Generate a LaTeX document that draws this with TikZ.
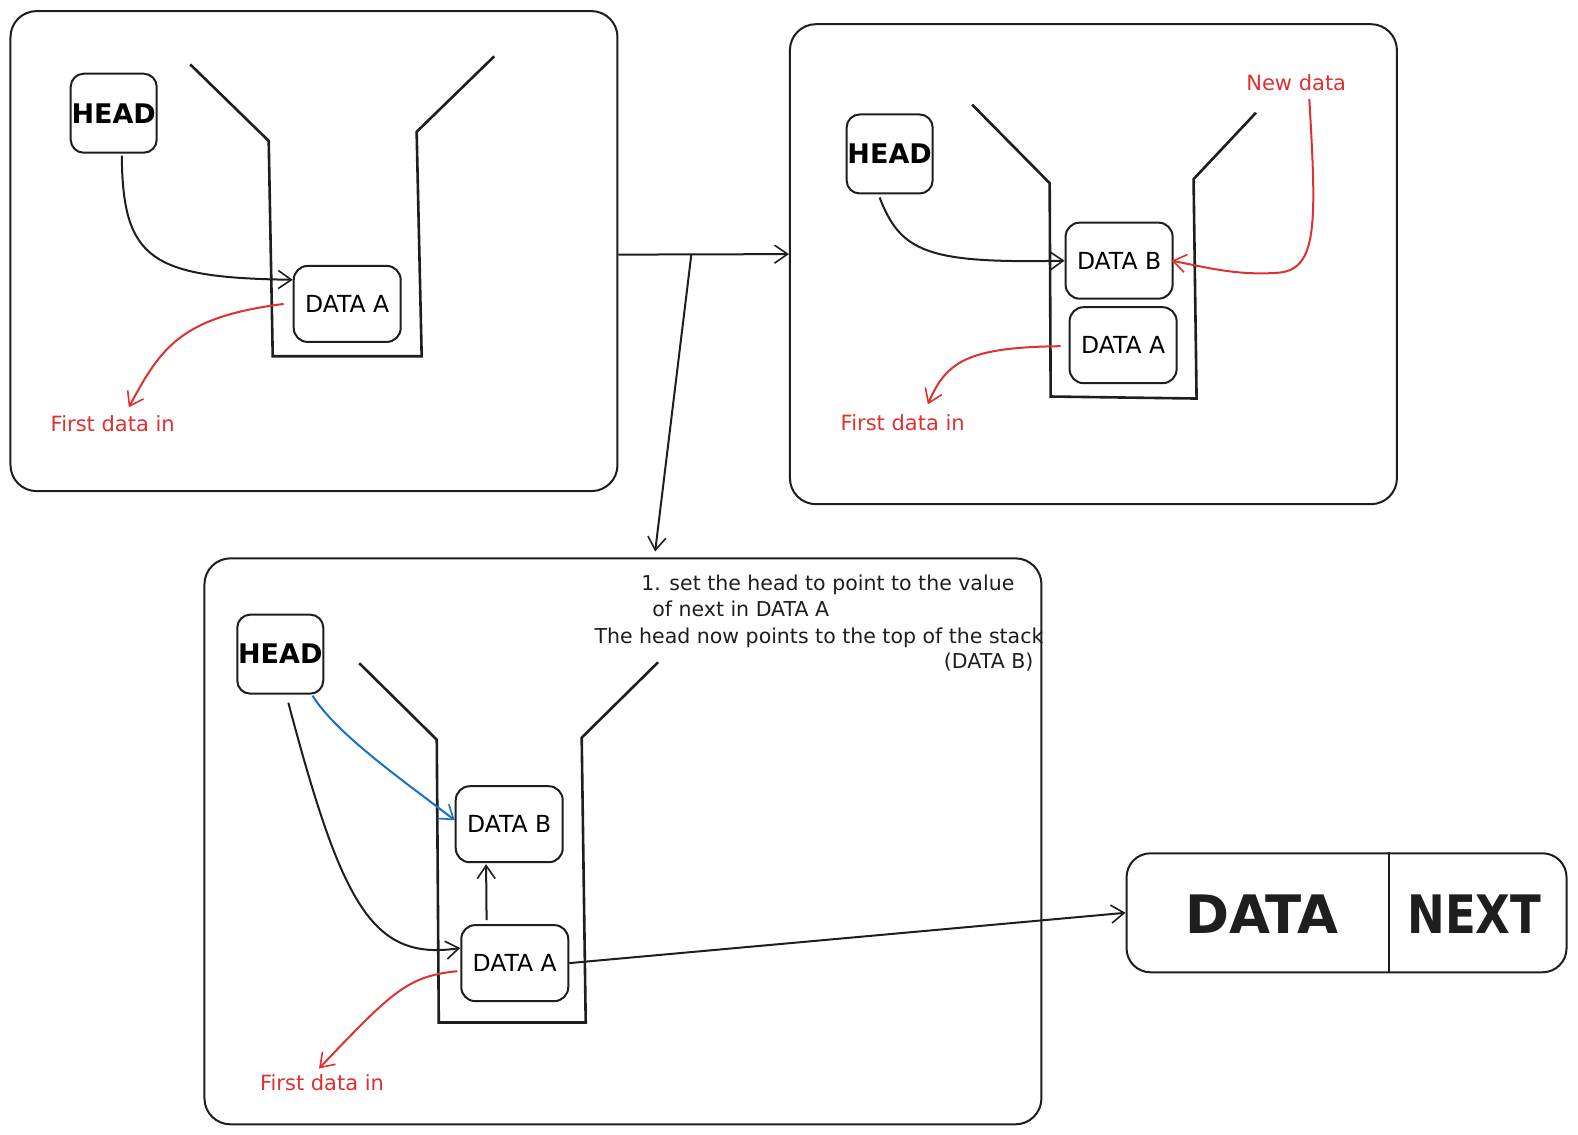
\documentclass[tikz,border=0pt]{standalone}
\usepackage{fontspec}
\setmainfont{DejaVu Sans}
\usetikzlibrary{arrows.meta,calc}
\definecolor{ink}{HTML}{1E1E1E}
\definecolor{myred}{HTML}{E03131}
\definecolor{myblue}{HTML}{1971C2}
\begin{document}
\begin{tikzpicture}[x=1.0064pt,y=-1.0064pt,
  panel/.style={draw=ink,line width=2pt,rounded corners=26pt,inner sep=0pt},
  headbox/.style={draw=ink,line width=2pt,rounded corners=13pt,minimum width=86pt,minimum height=79pt,inner sep=0pt,font=\fontsize{27}{27}\selectfont\bfseries},
  databox/.style={draw=ink,line width=2pt,rounded corners=14pt,minimum width=107pt,minimum height=76pt,inner sep=0pt,font=\fontsize{23.5}{23.5}\selectfont},
  funnel/.style={draw=ink,line width=2.6pt,line join=miter},
  conn/.style={draw=ink,line width=2pt,-{Straight Barb[length=13pt,width=18pt,line width=1.6pt]}},
  redconn/.style={draw=myred,line width=2pt,-{Straight Barb[length=13pt,width=18pt,line width=1.6pt]}},
  blueconn/.style={draw=myblue,line width=2pt,-{Straight Barb[length=13pt,width=18pt,line width=1.6pt]}},
  redtext/.style={text=myred,font=\fontsize{21}{21}\selectfont,inner sep=0pt},
  note/.style={text=ink,font=\fontsize{20.5}{20.5}\selectfont,inner sep=0pt},
  bigtext/.style={text=ink,font=\fontsize{53}{53}\selectfont\bfseries,inner sep=0pt}]
\useasboundingbox (0,0) rectangle (1568,1127);
\fill[white] (0,0) rectangle (1568,1127);

% panels
\node[panel,minimum width=607pt,minimum height=480pt] (p1) at (312,249.5) {};
\node[panel,minimum width=607pt,minimum height=480pt] (p2) at (1086.5,262.5) {};
\node[panel,minimum width=837pt,minimum height=566pt] (p3) at (619,836) {};

% ---------- panel 1 ----------
\draw[funnel] (189,64)--(267,140)--(271,354)--(419,354)--(414,131)--(491,56);
\node[headbox] (h1) at (113,112.5) {HEAD};
\node[databox] (a1) at (345,302) {DATA A};
\node[redtext] (f1) at (112,421) {First data in};
\draw[conn] ($(h1.south)+(8,2)$) .. controls (122,258) and (150,276) .. ($(a1.west)+(0,-24)$);
\draw[redconn] ($(a1.west)+(-9,0)$) .. controls (180,315) and (160,345) .. ($(f1.north)+(16,-8)$);

% ---------- panel 2 ----------
\draw[funnel] (966,104)--(1043,182)--(1044,394)--(1189,396)--(1186,178)--(1248,112);
\node[headbox] (h2) at (884,153) {HEAD};
\node[databox] (b2) at (1112,259) {DATA B};
\node[databox] (a2) at (1116,343) {DATA A};
\node[redtext] (n2) at (1288,82) {New data};
\node[redtext] (f2) at (897,420) {First data in};
\draw[conn] ($(h2.south)+(-10,3)$) .. controls (895,250) and (920,262) .. (b2.west);
\draw[redconn] ($(n2.south)+(13,8)$) .. controls (1308,220) and (1310,268) .. (1270,271) .. controls (1230,274) and (1200,266) .. ($(b2.east)+(-2,0)$);
\draw[redconn] ($(a2.west)+(-8,1)$) .. controls (960,345) and (940,360) .. ($(f2.north)+(25,-10)$);

% ---------- panel 3 ----------
\draw[funnel] (357,659)--(434,735)--(436,1016)--(582,1016)--(578,733)--(654,658);
\node[headbox] (h3) at (278.5,650) {HEAD};
\node[databox] (b3) at (506,819) {DATA B};
\node[databox] (a3) at (511.5,957) {DATA A};
\node[redtext] (f3) at (320,1076) {First data in};
\node[note,anchor=west] (t1) at (637,581) {1. set the head to point to the value};
\node[note,anchor=west] (t2) at (648,605) {of next in DATA A};
\node[note,anchor=east] (t3) at (1037,634) {The head now points to the top of the stack};
\node[note,anchor=east] (t4) at (1027,658) {(DATA B)};
\draw[conn] ($(h3.south)+(8,8)$) .. controls (340,900) and (370,955) .. ($(a3.west)+(0,-15)$);
\draw[blueconn] ($(h3.south)+(32,1)$) .. controls (335,730) and (400,775) .. ($(b3.west)+(0,-4)$);
\draw[conn] ($(a3.north)+(-28,-4)$) -- ($(b3.south)+(-23,1)$);
\draw[redconn] ($(a3.west)+(-3,8)$) .. controls (405,970) and (390,985) .. ($(f3.north)+(-3,-6)$);

% ---------- node DATA | NEXT ----------
\node[draw=ink,line width=2pt,rounded corners=24pt,minimum width=440pt,minimum height=119pt,inner sep=0pt] (rec) at (1338,907) {};
\draw[ink,line width=2pt] ($(rec.north west)+(262,0)$) coordinate (dv1) -- ($(rec.south west)+(262,0)$) coordinate (dv2);
\node[bigtext] (dt) at (1254,908) {DATA};
\node[bigtext] (nx) at (1465,908) {\scalebox{0.85}[1]{NEXT}};
\draw[conn] (a3.east) -- (rec.west);

% ---------- connectors between panels ----------
\coordinate (br) at (687,252.5);
\coordinate (p3top) at (651,548);
\draw[conn] ($(p1.east)+(0,3.5)$) -- ($(p2.west)+(0,-10)$);
\draw[conn] (br) -- (p3top);
\end{tikzpicture}
\end{document}
